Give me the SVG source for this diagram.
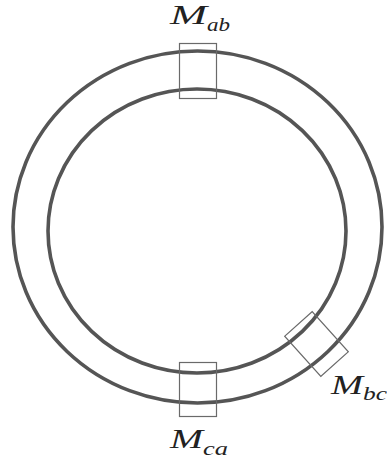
<svg xmlns="http://www.w3.org/2000/svg" width="387" height="463" viewBox="0 0 387 463">
<style>
.ring{fill:none;stroke:#555;stroke-width:3.6}
.box{fill:none;stroke:#6a6a6a;stroke-width:1.2}
.m{font-family:"Liberation Serif",serif;font-style:italic;font-size:28px;fill:#222}
.s{font-family:"Liberation Serif",serif;font-style:italic;font-size:19px;fill:#222}
</style>
<g id="rings">
<ellipse class="ring" cx="197.5" cy="227" rx="184.5" ry="176"/>
<ellipse class="ring" cx="197" cy="231" rx="149" ry="142"/>
</g>
<g id="Mab">
<rect class="box" x="179.5" y="43.5" width="37" height="55"/>
<text class="m" x="170" y="24" textLength="37" lengthAdjust="spacingAndGlyphs">M</text>
<text class="s" x="207" y="31" textLength="23" lengthAdjust="spacingAndGlyphs">ab</text>
</g>
<g id="Mbc">
<rect class="box" x="-18.5" y="-27" width="37" height="54" transform="translate(316.5,344) rotate(-42)"/>
<text class="m" x="331" y="394" textLength="32" lengthAdjust="spacingAndGlyphs">M</text>
<text class="s" x="363" y="400" textLength="24" lengthAdjust="spacingAndGlyphs">bc</text>
</g>
<g id="Mca">
<rect class="box" x="179.5" y="362.5" width="37" height="54"/>
<text class="m" x="170" y="448" textLength="33" lengthAdjust="spacingAndGlyphs">M</text>
<text class="s" x="203" y="455" textLength="25" lengthAdjust="spacingAndGlyphs">ca</text>
</g>
</svg>
